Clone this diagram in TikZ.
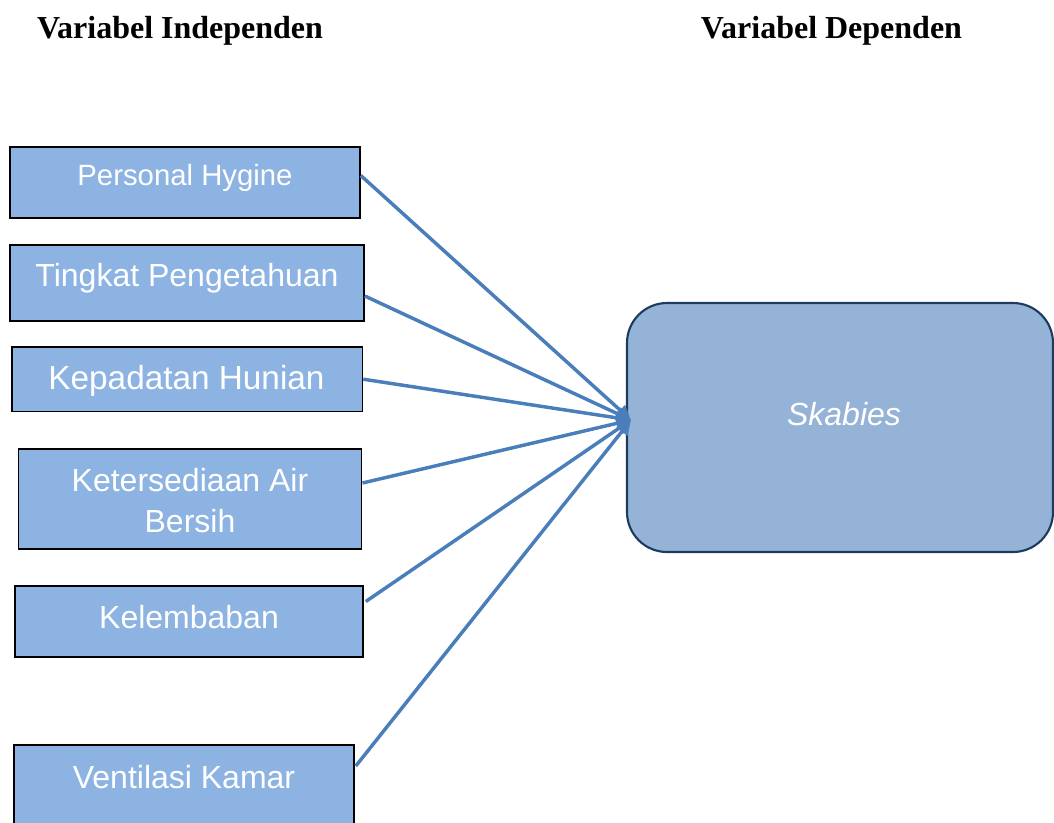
\documentclass[tikz,border=0pt]{standalone}
\usepackage{fontspec}
\setmainfont{Liberation Serif}
\newfontfamily\arialfont{Liberation Sans}
\usetikzlibrary{arrows.meta,calc}
\definecolor{boxfill}{HTML}{8DB3E2}
\definecolor{depfill}{HTML}{95B3D7}
\definecolor{depline}{HTML}{1F3A60}
\definecolor{arrowblue}{HTML}{4A7EBB}
\tikzset{
	varbox/.style={draw=black,fill=boxfill,line width=1.2pt,inner sep=0pt},
	vartext/.style={text=white,font=\arialfont\fontsize{24}{31}\selectfont,anchor=base,inner sep=0pt,align=center},
	heading/.style={font=\bfseries\fontsize{24}{29}\selectfont,anchor=base,inner sep=0pt},
	link/.style={draw=arrowblue,line width=2.6pt,-{Triangle[length=11pt,width=10pt]}},
}
\begin{document}
\begin{tikzpicture}[x=0.75pt,y=-0.75pt]
	\useasboundingbox (0,0) rectangle (1054,822);
	\node[heading] (hind) at (180,38) {Variabel Independen};
	\node[heading] (hdep) at (831.5,38) {Variabel Dependen};
	% independent variables
	\node[varbox,minimum width=262.5pt,minimum height=53.25pt] (ph) at (185,182.5) {};
	\node[varbox,minimum width=265.5pt,minimum height=57pt] (tp) at (187,283) {};
	\node[varbox,minimum width=262.9pt,minimum height=48.4pt] (kh) at (187.2,379.2) {};
	\node[varbox,minimum width=257.5pt,minimum height=75pt] (ka) at (190,499) {};
	\node[varbox,minimum width=261pt,minimum height=53.25pt] (kl) at (189,621.5) {};
	\node[varbox,minimum width=255pt,minimum height=67.5pt] (vk) at (184,790) {};
	\node[vartext,font=\arialfont\fontsize{22}{28}\selectfont] (ph-t) at (185,185.5) {Personal Hygine};
	\node[vartext] (tp-t) at (187,286.5) {Tingkat Pengetahuan};
	\node[vartext,font=\arialfont\fontsize{25}{31}\selectfont] (kh-t) at (186.5,389) {Kepadatan Hunian};
	\node[vartext,anchor=center] (ka-t) at (190,500.6) {Ketersediaan Air\\Bersih};
	\node[vartext] (kl-t) at (189,628) {Kelembaban};
	\node[vartext] (vk-t) at (184,788) {Ventilasi Kamar};
	% dependent variable
	\node[draw=depline,fill=depfill,line width=1.6pt,rounded corners=30pt,minimum width=319.5pt,minimum height=186.75pt] (sk) at (840,427.5) {};
	\node[vartext,font=\arialfont\itshape\fontsize{24}{29}\selectfont] (sk-t) at (844,425) {Skabies};
	\coordinate (hit) at (631,420);
	\draw[link] ($(ph.east)+(0,-7)$) -- (hit);
	\draw[link] ($(tp.east)+(0,13)$) -- (hit);
	\draw[link] (kh.east) -- (hit);
	\draw[link] ($(ka.east)+(0,-16)$) -- (hit);
	\draw[link] ($(kl.east)+(2,-20)$) -- (hit);
	\draw[link] ($(vk.east)+(1,-24)$) -- (hit);
\end{tikzpicture}
\end{document}
